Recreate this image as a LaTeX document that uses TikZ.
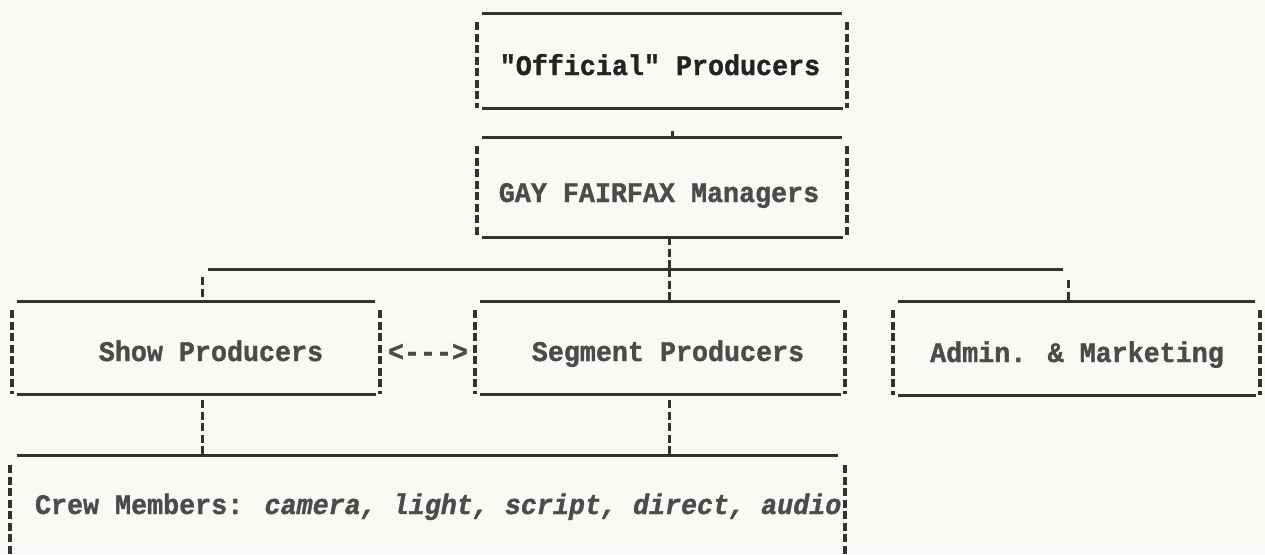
\documentclass[tikz,border=0pt]{standalone}
\usepackage{fontspec}
\newfontfamily\tw[FakeStretch=0.94,BoldFeatures={FakeBold=1.2},BoldItalicFeatures={FakeBold=1.2}]{Liberation Mono}
\definecolor{paper}{RGB}{249,249,246}
\definecolor{ink}{RGB}{50,50,50}
\definecolor{txt}{RGB}{75,75,75}
\definecolor{txtdark}{RGB}{35,35,35}
\tikzset{
  boxarea/.style={draw=none,inner sep=0pt,outer sep=0pt},
  hline/.style={draw=ink,line width=3pt},
  vline/.style={draw=ink,line width=3.2pt,dash pattern=on 8pt off 3.5pt},
  conn/.style={draw=ink,line width=3pt,dash pattern=on 8pt off 3.5pt},
  label/.style={inner sep=0pt,outer sep=0pt,anchor=base,text=txt,font=\tw\bfseries\fontsize{28.4pt}{32pt}\selectfont},
}
\newcommand\asciibox[1]{%
  \draw[hline] ([xshift=5pt]#1.north west) -- ([xshift=-5pt]#1.north east);
  \draw[hline] ([xshift=5pt]#1.south west) -- ([xshift=-4pt]#1.south east);
  \draw[vline] ([yshift=-9pt]#1.north west) -- (#1.south west);
  \draw[vline] ([yshift=-9pt]#1.north east) -- (#1.south east);}
\begin{document}
\begin{tikzpicture}[x=1pt,y=-1pt]
\fill[paper] (0,0) rectangle (1265,554);
\useasboundingbox (0,0) rectangle (1265,554);
% box areas
\node[boxarea,minimum width=370pt,minimum height=95pt] (off) at (662,60.5) {};
\node[boxarea,minimum width=370pt,minimum height=100pt] (man) at (662,187) {};
\node[boxarea,minimum width=368pt,minimum height=93pt] (show) at (196,347.5) {};
\node[boxarea,minimum width=370pt,minimum height=93pt] (seg) at (660,347.5) {};
\node[boxarea,minimum width=367pt,minimum height=94pt] (adm) at (1076.5,348) {};
\node[boxarea,minimum width=835pt,minimum height=99pt] (crew) at (427.5,504.5) {};
\asciibox{off}
\asciibox{man}
\asciibox{show}
\asciibox{seg}
\asciibox{adm}
\draw[hline] ([xshift=7pt]crew.north west) -- ([xshift=-7pt]crew.north east);
\draw[vline] ([yshift=-10pt]crew.north west) -- (crew.south west);
\draw[vline] ([yshift=-10pt]crew.north east) -- (crew.south east);
% texts
\node[label,text=txtdark] (offt) at (660,75) {"Official" Producers};
\node[label] (mant) at (659,202) {GAY FAIRFAX Managers};
\node[label] (showt) at (211,361) {Show Producers};
\node[label] (segt) at (668,361) {Segment Producers};
\node[label] (admt) at (1077,362) {Admin. \& Marketing};
\node[label] (arr) at (428,361) {<--->};
\node[label,anchor=base west] (crewt) at (35,514) {Crew Members: \textit{camera, light, script, direct, audio}};
% connectors
\coordinate (hub) at (669,269);
\coordinate (hl) at (208,269);
\coordinate (hr) at (1063,269);
\coordinate (sT) at (202,277);
\coordinate (aT) at (1068,280);
\coordinate (mT) at (672,131);
\draw[conn] (mT) -- (mT |- man.north);
\draw[conn] (man.south -| hub) -- (hub);
\draw[hline] (hl) -- (hr);
\draw[conn] (hub) -- (seg.north -| hub);
\draw[conn] (sT) -- (sT |- show.north);
\draw[conn] (aT) -- (aT |- adm.north);
\draw[conn] ([yshift=-6pt]show.south -| sT) -- (crew.north -| sT);
\draw[conn] ([yshift=-6pt]seg.south -| hub) -- (crew.north -| hub);
\end{tikzpicture}
\end{document}
